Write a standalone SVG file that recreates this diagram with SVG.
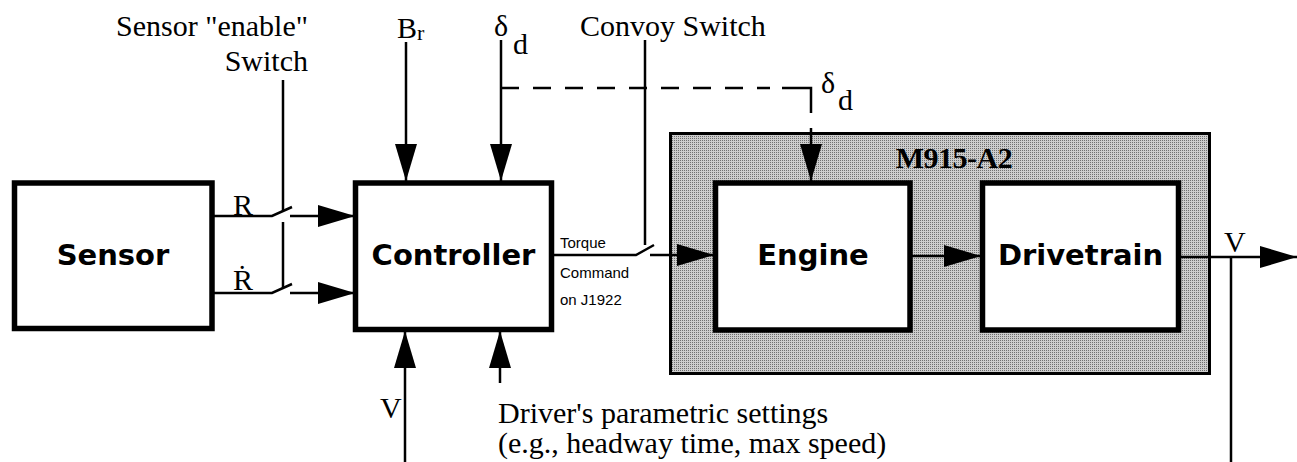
<svg xmlns="http://www.w3.org/2000/svg" width="1297" height="462" viewBox="0 0 1297 462">
<defs>
<marker id="ah" markerUnits="userSpaceOnUse" markerWidth="38" markerHeight="24" refX="37" refY="11" orient="auto">
<path d="M0,0 L37,11 L0,22 Z" fill="#000"/>
</marker>
<pattern id="dither" patternUnits="userSpaceOnUse" width="2" height="2">
<rect width="2" height="2" fill="#cdcdcd"/>
<rect width="1" height="1" fill="#707070"/>
</pattern>
<style>
.box{fill:#fff;stroke:#000;stroke-width:5.5}
.nt{font-family:"DejaVu Sans",sans-serif;font-weight:bold;font-size:29px;text-anchor:middle;fill:#000}
.ln{fill:none;stroke:#000;stroke-width:2.5}
.ar{fill:none;stroke:#000;stroke-width:2.5;marker-end:url(#ah)}
.dash{fill:none;stroke:#000;stroke-width:2.5;stroke-dasharray:18 14}
.lb{font-family:"Liberation Serif","DejaVu Serif",serif;font-size:30px;fill:#000}
.sm{font-family:"Liberation Sans",Arial,sans-serif;font-size:15px;fill:#000}
</style>
</defs>
<rect width="1297" height="462" fill="#fff"/>

<g id="vehicle">
<rect x="670.5" y="133.5" width="539" height="240" fill="url(#dither)" stroke="#000" stroke-width="3"/>
<text x="954" y="168" font-family="Liberation Serif,serif" font-weight="bold" font-size="30" text-anchor="middle" letter-spacing="-0.5">M915-A2</text>
</g>

<g id="sensor">
<rect class="box" x="14.5" y="183" width="197.5" height="145.5"/>
<text class="nt" x="113" y="265">Sensor</text>
</g>

<g id="controller">
<rect class="box" x="355.5" y="183" width="196" height="146.5"/>
<text class="nt" x="453.5" y="265">Controller</text>
</g>

<g id="engine">
<rect class="box" x="715.5" y="183" width="194.5" height="147"/>
<text class="nt" x="813" y="265">Engine</text>
</g>

<g id="drivetrain">
<rect class="box" x="982.5" y="183" width="196" height="147"/>
<text class="nt" x="1080.5" y="265">Drivetrain</text>
</g>

<g id="connectors">
<!-- R path with switch -->
<polyline class="ln" points="212,216 272,216 292,207"/>
<line class="ar" x1="290" y1="216" x2="355" y2="216"/>
<!-- R dot path with switch -->
<polyline class="ln" points="212,293 272,293 292,284"/>
<line class="ar" x1="290" y1="293" x2="355" y2="293"/>
<!-- sensor enable switch actuator -->
<line class="ln" x1="283" y1="80" x2="283" y2="211"/>
<line class="ln" x1="283" y1="222" x2="283" y2="288"/>
<!-- Br -->
<line class="ar" x1="406" y1="42" x2="406" y2="181"/>
<!-- delta d -->
<line class="ar" x1="501" y1="40" x2="501" y2="181"/>
<!-- dashed delta d to engine -->
<line class="dash" x1="501" y1="88" x2="770" y2="88"/>
<polyline class="ln" points="782,88 811,88 811,113"/>
<line class="ar" x1="811" y1="128" x2="811" y2="181"/>
<!-- convoy switch actuator -->
<line class="ln" x1="645" y1="40" x2="645" y2="245"/>
<!-- torque command -->
<polyline class="ln" points="551,255 636,255 654,245"/>
<line class="ar" x1="650" y1="255" x2="714" y2="255"/>
<!-- engine to drivetrain -->
<line class="ar" x1="910" y1="256" x2="981" y2="256"/>
<!-- output V -->
<line class="ar" x1="1178" y1="257" x2="1297" y2="257"/>
<line class="ln" x1="1231" y1="257" x2="1231" y2="462"/>
<!-- V feedback into controller -->
<line class="ar" x1="405" y1="462" x2="405" y2="331"/>
<!-- driver settings -->
<line class="ar" x1="500" y1="383" x2="500" y2="331"/>
</g>

<g id="labels">
<text class="lb" x="308" y="36" text-anchor="end">Sensor "enable"</text>
<text class="lb" x="308" y="71" text-anchor="end">Switch</text>
<text class="lb" x="397" y="38" font-size="24">B<tspan dy="2" font-size="22">r</tspan></text>
<text class="lb" x="494" y="36" font-size="33">δ</text>
<text class="lb" x="513" y="54" font-size="22">d</text>
<text class="lb" x="580" y="36">Convoy Switch</text>
<text class="lb" x="821" y="93" font-size="33">δ</text>
<text class="lb" x="838" y="110" font-size="22">d</text>
<text class="lb" x="233" y="215" font-size="28">R</text>
<text class="lb" x="233" y="290" font-size="28">Ṙ</text>
<text class="sm" x="560" y="248">Torque</text>
<text class="sm" x="560" y="278">Command</text>
<text class="sm" x="560" y="305">on J1922</text>
<text class="lb" x="1224" y="252" font-size="28">V</text>
<text class="lb" x="380" y="418" font-size="28">V</text>
<text class="lb" x="498" y="423" font-size="26">Driver's parametric settings</text>
<text class="lb" x="498" y="453" font-size="26">(e.g., headway time, max speed)</text>
</g>
</svg>
